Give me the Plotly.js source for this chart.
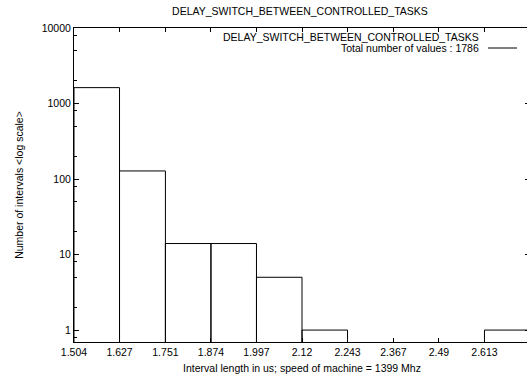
<!DOCTYPE html>
<html><head><meta charset="utf-8">
<script src="https://cdn.plot.ly/plotly-3.0.1.min.js"></script>
<style>html,body{margin:0;padding:0;overflow:hidden;background:#fff}#chart{width:530px;height:376px}</style>
</head><body><div id="chart"></div>
<script>
const chartTitle = "DELAY_SWITCH_BETWEEN_CONTROLLED_TASKS";
const xAxisTitle = "Interval length in us; speed of machine = 1399 Mhz";
const yAxisTitle = "Number of intervals <log scale>";
const binEdges = [1.504, 1.627, 1.751, 1.874, 1.997, 2.12, 2.243, 2.367, 2.49, 2.613, 2.736];
const binCounts = [1623, 128, 14, 14, 5, 1, 0, 0, 0, 1];
const xTickValues = [1.504, 1.627, 1.751, 1.874, 1.997, 2.12, 2.243, 2.367, 2.49, 2.613];
const xTickLabels = ["1.504", "1.627", "1.751", "1.874", "1.997", "2.12", "2.243", "2.367", "2.49", "2.613"];
const yTickValues = [1, 10, 100, 1000, 10000];
const yTickLabels = ["1", "10", "100", "1000", "10000"];
const yMinorTicks = [0.8, 2, 5, 8, 20, 50, 80, 200, 500, 800, 2000, 5000, 8000];
const legendLabel = "Total number of values : 1786";

const centers = [], widths = [], heights = [];
for (let i = 0; i < binCounts.length; i++) {
  centers.push((binEdges[i] + binEdges[i + 1]) / 2);
  widths.push(binEdges[i + 1] - binEdges[i]);
  heights.push(binCounts[i] > 0 ? binCounts[i] : null);
}

const font = {family: "Liberation Sans, Arial, Helvetica, sans-serif", size: 10.5, color: "#000"};

const trace = {
  type: "bar", x: centers, y: heights, width: widths,
  marker: {color: "rgba(255,255,255,0)", line: {color: "#000", width: 1}},
  hoverinfo: "x+y"
};

const layout = {
  width: 530, height: 376,
  margin: {l: 74, r: 0, t: 28, b: 34, pad: 0},
  paper_bgcolor: "#fff", plot_bgcolor: "#fff",
  font: font, showlegend: false,
  title: {text: chartTitle, font: font, x: 300 / 530, xanchor: "center", y: 1 - 11.7 / 376, yanchor: "middle"},
  xaxis: {
    range: [binEdges[0], binEdges[binEdges.length - 1]],
    tickmode: "array", tickvals: xTickValues, ticktext: xTickLabels,
    ticks: "inside", ticklen: 4, tickcolor: "#000", tickwidth: 1,
    showline: true, linecolor: "#000", linewidth: 1, mirror: "allticks",
    showgrid: false, zeroline: false, tickfont: font,
    title: {text: xAxisTitle, font: font, standoff: 8}
  },
  yaxis: {
    type: "log", range: [-0.158, 4],
    tickmode: "array", tickvals: yTickValues, ticktext: yTickLabels,
    ticks: "inside", ticklen: 5, tickcolor: "#000", tickwidth: 1,
    minor: {tickmode: "array", tickvals: yMinorTicks, ticks: "inside", ticklen: 3, tickcolor: "#000", showgrid: false},
    showline: true, linecolor: "#000", linewidth: 1, mirror: "allticks",
    showgrid: false, zeroline: false, tickfont: font,
    title: {text: yAxisTitle, font: font, standoff: 16}
  },
  annotations: [
    {text: chartTitle, xref: "paper", yref: "paper", x: (481 - 74) / 456, y: (342 - 37.3) / 314,
     xanchor: "right", yanchor: "middle", showarrow: false, font: font},
    {text: legendLabel, xref: "paper", yref: "paper", x: (481 - 74) / 456, y: (342 - 47.5) / 314,
     xanchor: "right", yanchor: "middle", showarrow: false, font: font}
  ],
  shapes: [
    {type: "line", xref: "paper", yref: "paper", x0: (488 - 74) / 456, x1: (517 - 74) / 456,
     y0: (342 - 48) / 314, y1: (342 - 48) / 314, line: {color: "#000", width: 1}}
  ]
};

Plotly.newPlot("chart", [trace], layout, {displayModeBar: false, staticPlot: true});
</script>
</body></html>
